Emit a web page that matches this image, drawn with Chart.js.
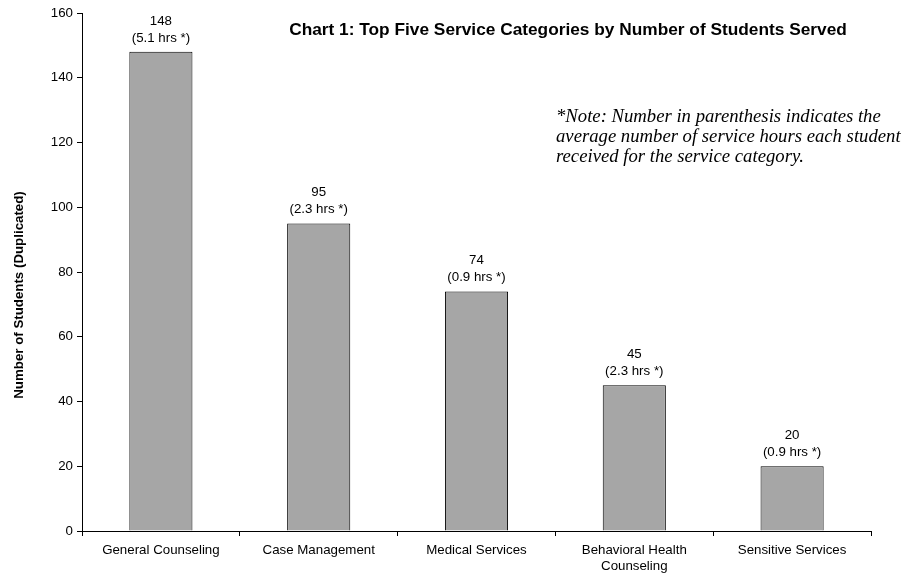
<!DOCTYPE html>
<html>
<head>
<meta charset="utf-8">
<script src="https://cdn.jsdelivr.net/npm/chart.js@4/dist/chart.umd.min.js"></script>
<style>
  html, body { margin: 0; padding: 0; background: #fff; }
  #wrap { width: 917px; height: 573px; }
</style>
</head>
<body>
<div id="wrap"><canvas id="serviceCanvas"></canvas></div>
<script>
// Chart data
const categories = ['General Counseling', 'Case Management', 'Medical Services', ['Behavioral Health', 'Counseling'], 'Sensitive Services'];
const studentCounts = [148, 95, 74, 45, 20];
const avgHours = ['5.1', '2.3', '0.9', '2.3', '0.9'];
const yTicks = [0, 20, 40, 60, 80, 100, 120, 140, 160];

const titleText = 'Chart 1: Top Five Service Categories by Number of Students Served';
const yAxisTitle = 'Number of Students (Duplicated)';
const noteLines = [
    '*Note: Number in parenthesis indicates the',
    'average number of service hours each student',
    'received for the service category.'
];

const baseFont = '"Liberation Sans", Arial, sans-serif';

// Draws value + hours above each bar, plus titles and note
const annotationPlugin = {
    id: 'annotations',
    afterDatasetsDraw(chart) {
        const ctx = chart.ctx;
        const meta = chart.getDatasetMeta(0);
        ctx.save();
        ctx.fillStyle = '#000';
        ctx.textAlign = 'center';
        ctx.textBaseline = 'middle';
        ctx.font = '13.3px ' + baseFont;
        meta.data.forEach((bar, i) => {
            ctx.fillText(String(studentCounts[i]), bar.x, bar.y - 31);
            ctx.fillText('(' + avgHours[i] + ' hrs *)', bar.x, bar.y - 14);
        });

        ctx.font = 'bold 17.3px ' + baseFont;
        ctx.fillText(titleText, 568, 30);

        // y axis title, rotated
        ctx.save();
        ctx.translate(19, 295);
        ctx.rotate(-Math.PI / 2);
        ctx.font = 'bold 13.3px ' + baseFont;
        ctx.fillText(yAxisTitle, 0, 0);
        ctx.restore();

        ctx.textAlign = 'left';
        ctx.font = 'italic 18.7px "Liberation Serif", "Times New Roman", serif';
        noteLines.forEach((line, i) => {
            ctx.fillText(line, 556, 117 + i * 20);
        });
        ctx.restore();
    }
};

function initializeChart() {
    const canvas = document.getElementById('serviceCanvas');
    const ctx = canvas.getContext('2d');
    new Chart(ctx, {
        type: 'bar',
        data: {
            labels: categories,
            datasets: [{
                data: studentCounts,
                backgroundColor: '#a6a6a6',
                borderColor: '#000',
                borderWidth: 1,
                categoryPercentage: 1,
                barPercentage: 0.4
            }]
        },
        options: {
            responsive: true,
            maintainAspectRatio: false,
            animation: false,
            layout: { padding: { top: 13, right: 46, left: 0, bottom: 0 } },
            plugins: {
                legend: { display: false },
                tooltip: { enabled: false }
            },
            scales: {
                x: {
                    grid: {
                        offset: true,
                        drawOnChartArea: false,
                        color: '#000',
                        tickLength: 5,
                        tickColor: '#000'
                    },
                    border: { color: '#000', width: 1 },
                    ticks: {
                        color: '#000',
                        font: { family: baseFont, size: 13.3, lineHeight: 1.15 },
                        maxRotation: 0,
                        padding: 7
                    },
                    afterFit(scale) { scale.height = 42; }
                },
                y: {
                    min: 0,
                    max: 160,
                    afterBuildTicks(scale) {
                        scale.ticks = yTicks.map(v => ({ value: v }));
                    },
                    grid: {
                        drawOnChartArea: false,
                        color: '#000',
                        tickLength: 5,
                        tickColor: '#000'
                    },
                    border: { color: '#000', width: 1 },
                    ticks: {
                        color: '#000',
                        font: { family: baseFont, size: 13.3 },
                        padding: 4
                    },
                    afterFit(scale) { scale.width = 82; }
                }
            }
        },
        plugins: [annotationPlugin]
    });
}

document.addEventListener('DOMContentLoaded', initializeChart);
</script>
</body>
</html>
